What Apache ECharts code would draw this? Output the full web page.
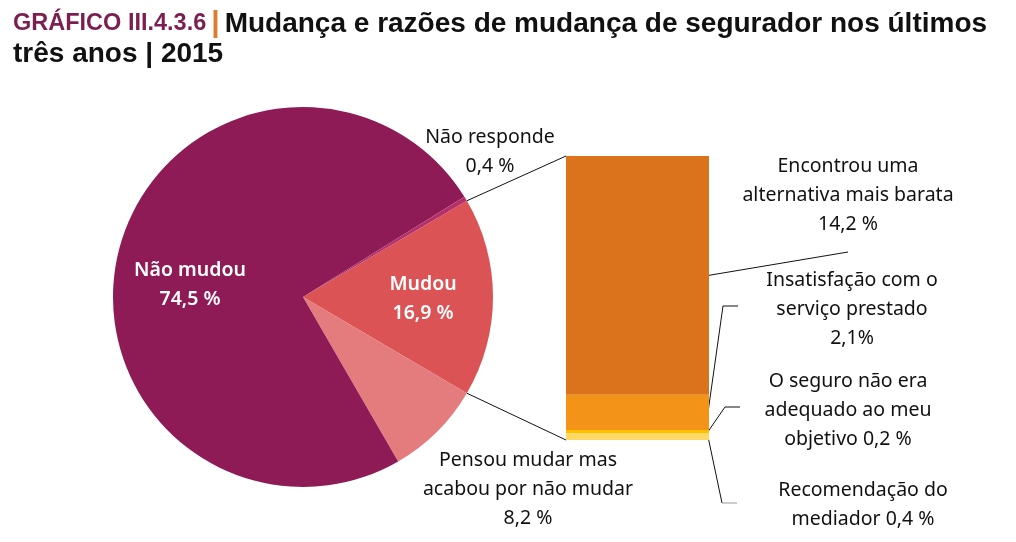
<!DOCTYPE html>
<html>
<head>
<meta charset="utf-8">
<script src="https://cdn.jsdelivr.net/npm/echarts@6/dist/echarts.min.js"></script>
<style>
html,body{margin:0;padding:0;background:#fff;}
#main{width:1016px;height:542px;}
</style>
</head>
<body>
<div id="main"></div>
<script>
// ---- data ----
const pieNames = ['Mudou', 'Pensou mudar mas acabou por não mudar', 'Não mudou', 'Não responde'];
const pieValues = [16.9, 8.2, 74.5, 0.4];
const pieLabelTemplates = ['Mudou\n{v} %', 'Pensou mudar mas\nacabou por não mudar\n{v} %', 'Não mudou\n{v} %', 'Não responde\n{v} %'];
const barCategories = ['Mudou'];
const barNames = ['Recomendação do mediador', 'O seguro não era adequado ao meu objetivo', 'Insatisfação com o serviço prestado', 'Encontrou uma alternativa mais barata'];
const barValues = [0.4, 0.2, 2.1, 14.2];
const barLabelTemplates = ['Recomendação do\nmediador {v} %', 'O seguro não era\nadequado ao meu\nobjetivo {v} %', 'Insatisfação com o\nserviço prestado\n{v}%', 'Encontrou uma\nalternativa mais barata\n{v} %'];

// ---- styles / layout ----
const pieColors = ['#DB5354', '#E47B7D', '#8E1A56', '#B3306A'];
const pieLabelColors = ['#ffffff', '#111111', '#ffffff', '#111111'];
const pieLabelWeights = [600, 'normal', 600, 'normal'];
const pieLabelPos = [[423, 299], [528, 489], [190, 285], [490, 152]];
const barColors = ['#FFD966', '#FFC000', '#F39318', '#DB731C'];
const barLabelPos = [[863, 505], [848, 410], [852, 309], [848, 195]];
const PIE_C = [303, 297], PIE_R = 190;
const FONT = 'Noto Sans';
const fmt = v => String(v).replace('.', ',');

const chart = echarts.init(document.getElementById('main'));
const total = pieValues.reduce((a, b) => a + b, 0);
const startAngle = pieValues[0] / total * 360 / 2;

const barSeries = barValues.map((v, i) => ({
  type: 'bar', name: barNames[i], stack: 'm', data: [v],
  barWidth: '100%',
  itemStyle: { color: barColors[i] },
  label: {
    show: true, formatter: () => barLabelTemplates[i].replace('{v}', fmt(v)),
    color: '#111', fontFamily: FONT, fontSize: 19.5, lineHeight: 29, align: 'center', overflow: 'none'
  },
  labelLayout: () => ({ x: barLabelPos[i][0], y: barLabelPos[i][1], align: 'center', verticalAlign: 'middle' }),
  silent: true
}));

chart.setOption({
  animation: false,
  title: {
    left: 8, top: 4,
    text: '{a|GRÁFICO III.4.3.6} {p||} {b|Mudança e razões de mudança de segurador nos últimos}\n{b|três anos | 2015}',
    textStyle: {
      rich: {
        a: { fontFamily: 'Liberation Sans', fontSize: 23.5, color: '#7B1F50', lineHeight: 30 },
        p: { fontFamily: 'Liberation Sans', fontSize: 30, color: '#E07B2E', lineHeight: 30 },
        b: { fontFamily: 'Liberation Sans', fontWeight: 'bold', fontSize: 28, color: '#111', lineHeight: 30 }
      }
    }
  },
  grid: { left: 566, right: 307, top: 156, bottom: 102 },
  xAxis: { type: 'category', data: barCategories, show: false },
  yAxis: { type: 'value', min: 0, max: total - pieValues[1] - pieValues[2] - pieValues[3], show: false },
  series: [
    {
      type: 'pie', center: PIE_C, radius: PIE_R, startAngle: startAngle, clockwise: true,
      silent: true,
      data: pieNames.map((n, i) => ({
        name: n, value: pieValues[i], itemStyle: { color: pieColors[i] },
        label: { color: pieLabelColors[i], fontWeight: pieLabelWeights[i] }
      })),
      label: {
        show: true,
        formatter: p => pieLabelTemplates[p.dataIndex].replace('{v}', fmt(p.value)),
        fontFamily: FONT, fontSize: 19.5, lineHeight: 29, align: 'center', overflow: 'none'
      },
      labelLine: { show: false },
      labelLayout: p => ({ x: pieLabelPos[p.dataIndex][0], y: pieLabelPos[p.dataIndex][1], align: 'center', verticalAlign: 'middle' }),
      emphasis: { disabled: true }
    }
  ].concat(barSeries)
});

// ---- connector & leader lines from chart coordinates ----
const rect = chart.getModel().getComponent('grid').coordinateSystem.getRect();
const yPx = v => chart.convertToPixel({ gridIndex: 0 }, [0, v])[1];
const rad = a => a * Math.PI / 180;
const edge = a => [PIE_C[0] + PIE_R * Math.cos(rad(a)), PIE_C[1] - PIE_R * Math.sin(rad(a))];
const barTotal = barValues.reduce((a, b) => a + b, 0);
const bL = rect.x, bR = rect.x + rect.width;

let cum = 0; const mids = barValues.map(v => { const m = cum + v / 2; cum += v; return yPx(m); });

const ln = (pts, color) => ({ type: 'polyline', shape: { points: pts }, style: { stroke: color || '#111', lineWidth: 1, fill: null }, silent: true });
const graphics = [
  ln([edge(startAngle), [bL, yPx(barTotal)]]),
  ln([edge(startAngle - pieValues[0] / total * 360), [bL, yPx(0)]]),
  ln([[bR, mids[3]], [barLabelPos[3][0], barLabelPos[3][1] + 57]]),
  ln([[bR - 1, mids[2]], [bR + 14, barLabelPos[2][1] - 3], [bR + 29, barLabelPos[2][1] - 3]]),
  ln([[bR - 1, mids[1]], [bR + 16, barLabelPos[1][1] - 3], [bR + 31, barLabelPos[1][1] - 3]]),
  ln([[bR - 1, mids[0]], [bR + 13, barLabelPos[0][1] - 2]]),
  ln([[bR + 13, barLabelPos[0][1] - 2], [bR + 28, barLabelPos[0][1] - 2]], '#999')
];
chart.setOption({ graphic: graphics });
</script>
</body>
</html>
